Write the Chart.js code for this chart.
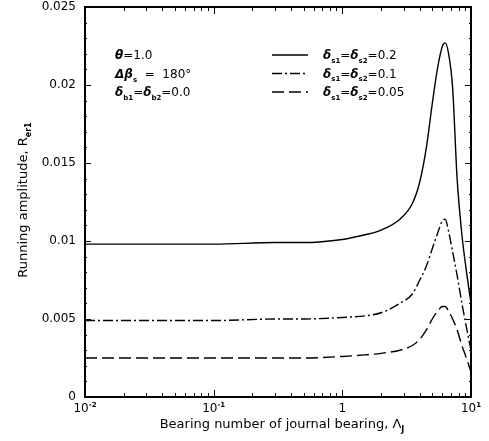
<!DOCTYPE html>
<html>
<head>
<meta charset="utf-8">
<script src="https://cdn.jsdelivr.net/npm/chart.js@4"></script>
<style>
  html, body { margin: 0; padding: 0; background: #fff; }
  #wrap { width: 489px; height: 441px; }
</style>
</head>
<body>
<div id="wrap"><canvas id="ampChart" width="489" height="441"></canvas></div>
<script>
// bearing number of journal bearing (log axis)
const lambdaVals = [0.01, 0.03, 0.1, 0.3, 0.5, 1, 1.5, 2, 2.8, 3.5, 4, 4.5, 5, 5.5, 6, 6.3, 6.7, 7.2, 7.8, 8.5, 9.2, 10];
// running amplitude for each seal stiffness
const amp02 = [0.0098, 0.0098, 0.0098, 0.0099, 0.0099, 0.0101, 0.0104, 0.0107, 0.0114, 0.0124, 0.0138, 0.0160, 0.0188, 0.0211, 0.0225, 0.0227, 0.0220, 0.0198, 0.0140, 0.0104, 0.0081, 0.0060];
const amp01 = [0.0049, 0.0049, 0.0049, 0.0050, 0.0050, 0.0051, 0.0052, 0.0054, 0.0060, 0.0066, 0.0075, 0.0084, 0.0095, 0.0105, 0.0113, 0.0114, 0.0106, 0.0093, 0.0078, 0.0060, 0.0045, 0.0030];
const amp005 = [0.0025, 0.0025, 0.0025, 0.0025, 0.0025, 0.0026, 0.0027, 0.0028, 0.0030, 0.0033, 0.0037, 0.0043, 0.0050, 0.0055, 0.0058, 0.0058, 0.0055, 0.0050, 0.0043, 0.0033, 0.0025, 0.0016];

const yTickVals = [0, 0.005, 0.01, 0.015, 0.02, 0.025];
const yTickLabels = ['0', '0.005', '0.01', '0.015', '0.02', '0.025'];
const xTickVals = [0.01, 0.1, 1, 10];
const xTickLabels = [['10', '-2'], ['10', '-1'], ['1', ''], ['10', '1']];

const seriesNames = ['0.2', '0.1', '0.05'];
const dashes = [[], [10, 3, 2, 3], [12, 5]];

const toPoints = arr => arr.map((y, i) => ({ x: lambdaVals[i], y }));

const FONT = '"DejaVu Sans", sans-serif';

// draws a run of [text, kind] pieces, kind: n normal, s subscript, u superscript, g greek italic bold
function drawRich(ctx, parts, x, y, size, align) {
  const fontFor = k => {
    if (k === 's' || k === 'u') return `bold ${Math.round(size * 0.62)}px ${FONT}`;
    if (k === 'g') return `italic bold ${size}px ${FONT}`;
    return `${size}px ${FONT}`;
  };
  let total = 0;
  parts.forEach(([t, k]) => { ctx.font = fontFor(k); total += ctx.measureText(t).width; });
  let cx = align === 'center' ? x - total / 2 : (align === 'right' ? x - total : x);
  ctx.textAlign = 'left';
  ctx.textBaseline = 'alphabetic';
  parts.forEach(([t, k]) => {
    ctx.font = fontFor(k);
    let dy = 0;
    if (k === 's') dy = size * 0.3;
    if (k === 'u') dy = -size * 0.45;
    ctx.fillText(t, cx, y + dy);
    cx += ctx.measureText(t).width;
  });
}

const framePlugin = {
  id: 'frame',
  afterDraw(chart) {
    const { ctx, chartArea: a, scales } = chart;
    const xs = scales.x, ys = scales.y;
    ctx.save();
    ctx.strokeStyle = '#000';
    ctx.fillStyle = '#000';
    ctx.lineWidth = 2;
    ctx.strokeRect(a.left, a.top, a.right - a.left, a.bottom - a.top);

    // y ticks, inward on both sides
    ctx.lineWidth = 1;
    for (let k = 0; k <= 25; k++) {
      const py = Math.round(ys.getPixelForValue(k * 0.001)) + 0.5;
      const len = k % 5 === 0 ? 6 : 2;
      ctx.beginPath();
      ctx.moveTo(a.left, py); ctx.lineTo(a.left + len, py);
      ctx.moveTo(a.right, py); ctx.lineTo(a.right - len, py);
      ctx.stroke();
    }
    // x ticks, inward on bottom and top
    [0.01, 0.1, 1].forEach(dec => {
      for (let m = 1; m <= 9; m++) {
        const px = Math.round(xs.getPixelForValue(dec * m)) + 0.5;
        const len = m === 1 ? 7 : 4;
        ctx.beginPath();
        ctx.moveTo(px, a.bottom); ctx.lineTo(px, a.bottom - len);
        ctx.moveTo(px, a.top); ctx.lineTo(px, a.top + len);
        ctx.stroke();
      }
    });

    // tick labels
    ctx.font = `12px ${FONT}`;
    ctx.textAlign = 'right';
    ctx.textBaseline = 'middle';
    yTickVals.forEach((v, i) => {
      ctx.fillText(yTickLabels[i], a.left - 9, ys.getPixelForValue(v));
    });
    xTickVals.forEach((v, i) => {
      const [base, exp] = xTickLabels[i];
      const parts = [[base, 'n']];
      if (exp) parts.push([exp, 'u']);
      drawRich(ctx, parts, xs.getPixelForValue(v), a.bottom + 15, 12, 'center');
    });

    // axis titles
    drawRich(ctx, [['Bearing number of journal bearing, Λ', 'n'], ['J', 's']],
      (a.left + a.right) / 2 + 4, 428, 13, 'center');
    ctx.save();
    ctx.translate(27, 200);
    ctx.rotate(-Math.PI / 2);
    drawRich(ctx, [['Running amplitude, R', 'n'], ['er1', 's']], 0, 0, 13, 'center');
    ctx.restore();

    // parameter block
    const lx = 115;
    drawRich(ctx, [['θ', 'g'], ['=1.0', 'n']], lx, 59, 12);
    drawRich(ctx, [['Δβ', 'g'], ['s', 's'], ['  =  180°', 'n']], lx, 78, 12);
    drawRich(ctx, [['δ', 'g'], ['b1', 's'], ['=', 'n'], ['δ', 'g'], ['b2', 's'], ['=0.0', 'n']], lx, 96, 12);

    // legend
    chart.data.datasets.forEach((ds, i) => {
      const yy = 55 + i * 18.5;
      ctx.setLineDash(ds.borderDash || []);
      ctx.lineWidth = 1.4;
      ctx.beginPath();
      ctx.moveTo(272, yy); ctx.lineTo(308, yy);
      ctx.stroke();
      ctx.setLineDash([]);
      drawRich(ctx, [['δ', 'g'], ['s1', 's'], ['=', 'n'], ['δ', 'g'], ['s2', 's'], ['=' + seriesNames[i], 'n']], 323, yy + 4, 12);
    });
    ctx.restore();
  }
};

new Chart(document.getElementById('ampChart').getContext('2d'), {
  type: 'line',
  data: {
    datasets: [amp02, amp01, amp005].map((arr, i) => ({
      label: seriesNames[i],
      data: toPoints(arr),
      borderColor: '#000',
      borderWidth: 1.4,
      borderDash: dashes[i],
      pointRadius: 0,
      fill: false,
      cubicInterpolationMode: 'monotone'
    }))
  },
  options: {
    responsive: false,
    animation: false,
    layout: { padding: { left: 85, right: 18, top: 7, bottom: 44 } },
    plugins: { legend: { display: false }, tooltip: { enabled: false } },
    scales: {
      x: {
        type: 'logarithmic', min: 0.01, max: 10,
        grid: { display: false, drawTicks: false },
        border: { display: false },
        ticks: { display: false },
        afterFit: s => { s.height = 0; }
      },
      y: {
        type: 'linear', min: 0, max: 0.025,
        grid: { display: false, drawTicks: false },
        border: { display: false },
        ticks: { display: false },
        afterFit: s => { s.width = 0; }
      }
    }
  },
  plugins: [framePlugin]
});
</script>
</body>
</html>
